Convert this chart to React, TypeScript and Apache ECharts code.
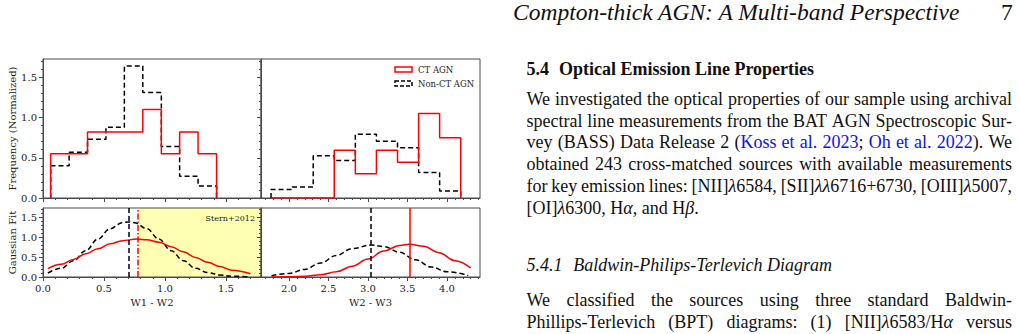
import React, { useEffect, useRef } from "react";
import * as echarts from "echarts";

// ---------------- data ----------------
// top-left: W1 - W2 histograms
const leftEdges = [0.063, 0.214, 0.365, 0.516, 0.667, 0.818, 0.97, 1.12, 1.271, 1.423];
const leftCT = [0.55, 0.55, 0.82, 0.82, 0.82, 1.1, 0.55, 0.82, 0.55];
const leftNonCT = [0.4, 0.57, 0.73, 0.88, 1.64, 1.31, 0.64, 0.27, 0.15];
// top-right: W2 - W3 histograms
const rightEdges = [1.773, 2.04, 2.307, 2.573, 2.84, 3.107, 3.374, 3.641, 3.907, 4.174];
const rightCT = [0, 0, 0, 0.595, 0.3, 0.595, 0.445, 1.05, 0.75];
const rightNonCT = [0.105, 0.137, 0.524, 0.466, 0.794, 0.707, 0.624, 0.317, 0.087];

// bottom-left: Gaussian fits (W1 - W2)
const leftGaussNonCTX = [0.04, 0.15, 0.25, 0.35, 0.45, 0.55, 0.65, 0.7, 0.75, 0.85, 0.95, 1.05, 1.15, 1.25, 1.35, 1.45, 1.55, 1.7];
const leftGaussNonCTY = [0.1, 0.22, 0.41, 0.66, 0.95, 1.21, 1.36, 1.38, 1.36, 1.21, 0.95, 0.66, 0.41, 0.22, 0.11, 0.05, 0.02, 0.003];
const leftGaussCTX = [0.04, 0.15, 0.25, 0.35, 0.45, 0.55, 0.65, 0.77, 0.85, 0.95, 1.05, 1.15, 1.25, 1.35, 1.45, 1.55, 1.7];
const leftGaussCTY = [0.21, 0.32, 0.44, 0.58, 0.71, 0.83, 0.91, 0.95, 0.93, 0.87, 0.76, 0.63, 0.49, 0.37, 0.26, 0.17, 0.08];
// bottom-right: Gaussian fits (W2 - W3)
const rightGaussNonCTX = [1.78, 2.0, 2.2, 2.4, 2.6, 2.8, 3.04, 3.2, 3.4, 3.6, 3.8, 4.0, 4.27];
const rightGaussNonCTY = [0.03, 0.09, 0.19, 0.35, 0.54, 0.71, 0.8, 0.76, 0.62, 0.43, 0.25, 0.13, 0.04];
const rightGaussCTX = [1.78, 2.0, 2.2, 2.4, 2.6, 2.8, 3.0, 3.2, 3.4, 3.53, 3.7, 3.9, 4.1, 4.3];
const rightGaussCTY = [0.001, 0.006, 0.02, 0.055, 0.13, 0.27, 0.45, 0.65, 0.79, 0.82, 0.77, 0.61, 0.41, 0.23];

// means (vertical lines) and the Stern+2012 cut
const leftMeanCT = 0.775;
const leftMeanNonCT = 0.7;
const rightMeanCT = 3.53;
const rightMeanNonCT = 3.04;
const sternCut = 0.78;
const sternLabel = "Stern+2012";

// axis ranges and ticks
const leftRange = [0, 1.787];
const rightRange = [1.646, 4.418];
const yRange = [0, 1.728];
const leftMajor = [0, 0.5, 1.0, 1.5];
const leftMinor = [0.1, 0.2, 0.3, 0.4, 0.6, 0.7, 0.8, 0.9, 1.1, 1.2, 1.3, 1.4, 1.6, 1.7];
const rightMajor = [2.0, 2.5, 3.0, 3.5, 4.0];
const rightMinor = [1.7, 1.8, 1.9, 2.1, 2.2, 2.3, 2.4, 2.6, 2.7, 2.8, 2.9, 3.1, 3.2, 3.3, 3.4, 3.6, 3.7, 3.8, 3.9, 4.1, 4.2, 4.3, 4.4];
const yMajor = [0, 0.5, 1.0, 1.5];
const yMinor = [0.1, 0.2, 0.3, 0.4, 0.6, 0.7, 0.8, 0.9, 1.1, 1.2, 1.3, 1.4, 1.6, 1.7];

const seriesNames = ["CT AGN", "Non-CT AGN"];
const axisNames = { freq: "Frequency (Normalized)", gauss: "Gaussian Fit", w12: "W1 - W2", w23: "W2 - W3" };

// page text
const headerTitle = "Compton-thick AGN: A Multi-band Perspective";
const pageNumber = "7";
const sectionNum = "5.4";
const sectionTitle = "Optical Emission Line Properties";
const paraLines = [
  "We investigated the optical properties of our sample using archival",
  "spectral line measurements from the BAT AGN Spectroscopic Sur-",
  "vey (BASS) Data Release 2 ({Koss} {et} {al.} {2023}; {Oh} {et} {al.} {2022}). We",
  "obtained 243 cross-matched sources with available measurements",
  "for key emission lines: [NII]λ6584, [SII]λλ6716+6730, [OIII]λ5007,",
];
const paraLast = "[OI]λ6300, Hα, and Hβ.";
const subNum = "5.4.1";
const subTitle = "Baldwin-Philips-Terlevich Diagram";
const para2Lines = [
  "We classified the sources using three standard Baldwin-",
  "Phillips-Terlevich (BPT) diagrams: (1) [NII]λ6583/Hα versus",
];

// ---------------- styling ----------------
const FONT = '"DejaVu Serif", serif';
const PAGE_FONT = '"Liberation Serif", "Times New Roman", Times, serif';
const AXIS_COLOR = "#4a4a4a";
const TEXT_COLOR = "#222";
const RED = "#ff0000";
const BLACK = "#000000";
const DASH = [5, 3];
const LINK_COLOR = "#1010f0";

function stepData(edges: number[], vals: number[]) {
  const d: number[][] = [[edges[0], 0]];
  vals.forEach((v, i) => d.push([edges[i], v]));
  d.push([edges[edges.length - 1], 0]);
  return d;
}
function zip(xs: number[], ys: number[]) {
  return xs.map((x, i) => [x, ys[i]]);
}

function xAxes(gridIndex: number, range: number[], major: number[], minor: number[], labels: boolean, name?: string) {
  return [
    {
      type: "value", gridIndex, min: range[0], max: range[1], position: "bottom", z: 2,
      axisLine: { show: true, lineStyle: { color: AXIS_COLOR, width: 1 } },
      axisTick: { show: true, customValues: major, length: 4, lineStyle: { color: AXIS_COLOR, width: 1 } },
      axisLabel: {
        show: labels, customValues: major, formatter: (v: number) => v.toFixed(1),
        fontFamily: FONT, fontSize: 10, color: TEXT_COLOR, margin: 6,
      },
      splitLine: { show: false },
      name: name || "", nameLocation: "middle", nameGap: 20,
      nameTextStyle: { fontFamily: FONT, fontSize: 10, color: TEXT_COLOR },
    },
    {
      type: "value", gridIndex, min: range[0], max: range[1], position: "bottom", z: 2,
      axisLine: { show: false },
      axisTick: { show: true, customValues: minor, length: 2, lineStyle: { color: AXIS_COLOR, width: 1 } },
      axisLabel: { show: false },
      splitLine: { show: false },
    },
  ];
}
function yAxes(gridIndex: number, labels: boolean, name?: string) {
  return [
    {
      type: "value", gridIndex, min: yRange[0], max: yRange[1], position: "left", z: 2,
      axisLine: { show: true, lineStyle: { color: AXIS_COLOR, width: 1 } },
      axisTick: { show: true, customValues: yMajor, length: 4, lineStyle: { color: AXIS_COLOR, width: 1 } },
      axisLabel: {
        show: labels, customValues: yMajor, formatter: (v: number) => v.toFixed(1),
        fontFamily: FONT, fontSize: 10, color: TEXT_COLOR, margin: 6,
      },
      splitLine: { show: false },
      name: name || "", nameLocation: "middle", nameRotate: 90, nameGap: 26,
      nameTextStyle: { fontFamily: FONT, fontSize: 10, color: TEXT_COLOR },
    },
    {
      type: "value", gridIndex, min: yRange[0], max: yRange[1], position: "left", z: 2,
      axisLine: { show: false },
      axisTick: { show: true, customValues: yMinor, length: 2, lineStyle: { color: AXIS_COLOR, width: 1 } },
      axisLabel: { show: false },
      splitLine: { show: false },
    },
  ];
}

function histSeries(name: string, axis: number, edges: number[], vals: number[], color: string, dashed: boolean) {
  return {
    type: "line", name, xAxisIndex: axis, yAxisIndex: axis, step: "end",
    data: stepData(edges, vals), symbol: "none", showSymbol: false, silent: true, z: 3,
    lineStyle: { color, width: 1.5, type: dashed ? DASH : "solid" },
  };
}
function gaussSeries(name: string, axis: number, xs: number[], ys: number[], color: string, dashed: boolean, mean: number, meanType: any) {
  return {
    type: "line", name, xAxisIndex: axis, yAxisIndex: axis, smooth: 0.4, smoothMonotone: "x",
    data: zip(xs, ys), symbol: "none", showSymbol: false, silent: true, z: 3,
    lineStyle: { color, width: 1.5, type: dashed ? DASH : "solid" },
    markLine: {
      silent: true, symbol: ["none", "none"], label: { show: false },
      lineStyle: { color, width: 1.5, type: meanType },
      data: [{ xAxis: mean }],
    },
  };
}

function buildOption() {
  const gridBase = { show: true, borderColor: AXIS_COLOR, borderWidth: 1, backgroundColor: "transparent", containLabel: false, z: 2 };
  return {
    animation: false,
    grid: [
      { ...gridBase, left: 43, top: 59, width: 218, height: 139 },
      { ...gridBase, left: 261, top: 59, width: 219, height: 139 },
      { ...gridBase, left: 43, top: 208, width: 218, height: 69 },
      { ...gridBase, left: 261, top: 208, width: 219, height: 69 },
    ],
    xAxis: [
      ...xAxes(0, leftRange, leftMajor, leftMinor, false),
      ...xAxes(1, rightRange, rightMajor, rightMinor, false),
      ...xAxes(2, leftRange, leftMajor, leftMinor, true, axisNames.w12),
      ...xAxes(3, rightRange, rightMajor, rightMinor, true, axisNames.w23),
    ],
    yAxis: [
      ...yAxes(0, true, axisNames.freq),
      ...yAxes(1, false),
      ...yAxes(2, true, axisNames.gauss),
      ...yAxes(3, false),
    ],
    series: [
      {
        type: "line", name: "stern", xAxisIndex: 4, yAxisIndex: 4, data: [[sternCut, 0]],
        symbol: "none", lineStyle: { opacity: 0 }, silent: true, z: 1,
        markArea: {
          silent: true,
          itemStyle: { color: "#ffffb3" },
          label: {
            show: true, position: "insideTopRight", distance: 6,
            fontFamily: FONT, fontSize: 8, color: TEXT_COLOR,
          },
          data: [[{ xAxis: sternCut, name: sternLabel }, { xAxis: leftRange[1] }]],
        },
      },
      histSeries(seriesNames[1], 0, leftEdges, leftNonCT, BLACK, true),
      histSeries(seriesNames[0], 0, leftEdges, leftCT, RED, false),
      histSeries(seriesNames[1], 2, rightEdges, rightNonCT, BLACK, true),
      histSeries(seriesNames[0], 2, rightEdges, rightCT, RED, false),
      gaussSeries(seriesNames[1], 4, leftGaussNonCTX, leftGaussNonCTY, BLACK, true, leftMeanNonCT, DASH),
      gaussSeries(seriesNames[0], 4, leftGaussCTX, leftGaussCTY, RED, false, leftMeanCT, [6, 2, 1.5, 2]),
      gaussSeries(seriesNames[1], 6, rightGaussNonCTX, rightGaussNonCTY, BLACK, true, rightMeanNonCT, DASH),
      gaussSeries(seriesNames[0], 6, rightGaussCTX, rightGaussCTY, RED, false, rightMeanCT, "solid"),
    ],
    graphic: [
      { type: "rect", silent: true, z: 10, shape: { x: 395, y: 67, width: 17, height: 5 }, style: { fill: "none", stroke: RED, lineWidth: 1.5 } },
      { type: "rect", silent: true, z: 10, shape: { x: 395, y: 81, width: 17, height: 5 }, style: { fill: "none", stroke: BLACK, lineWidth: 1.5, lineDash: [4, 2] } },
      { type: "text", silent: true, z: 10, x: 418, y: 69.5, style: { text: seriesNames[0], fontFamily: FONT, fontSize: 8.5, fill: TEXT_COLOR, verticalAlign: "middle" } },
      { type: "text", silent: true, z: 10, x: 418, y: 83.5, style: { text: seriesNames[1], fontFamily: FONT, fontSize: 8.5, fill: TEXT_COLOR, verticalAlign: "middle" } },
    ],
  };
}

// ---------------- page text helpers ----------------
const TEXT_LEFT = 526.5;
const TEXT_W = 485.5;
const PARA_SIZE = 18;
const LH = 0.8; // line-height in em
const ASC = (LH - 1.107) / 2 + 0.891; // baseline offset from box top, in em

function rich(s: string, kb: string) {
  return s.split(/(\{[^}]*\}|[λαβ])/).filter((p) => p !== "").map((p, i) => {
    if (p.startsWith("{")) return <span key={kb + i} style={{ color: LINK_COLOR }}>{p.slice(1, -1)}</span>;
    if (/^[λαβ]$/.test(p)) return <i key={kb + i}>{p}</i>;
    return <React.Fragment key={kb + i}>{p}</React.Fragment>;
  });
}

function JustLine({ text, baseline }: { text: string; baseline: number }) {
  const words = text.split(" ");
  return (
    <div
      style={{
        position: "absolute", left: TEXT_LEFT, width: TEXT_W, top: baseline - ASC * PARA_SIZE,
        display: "flex", justifyContent: "space-between", columnGap: 2,
        fontFamily: PAGE_FONT, fontSize: PARA_SIZE, lineHeight: LH, whiteSpace: "nowrap", color: "#111",
      }}
    >
      {words.map((w, i) => <span key={i}>{rich(w, "w" + i)}</span>)}
    </div>
  );
}

function PlainLine({ baseline, size, left, style, children }: any) {
  return (
    <div
      style={{
        position: "absolute", left, top: baseline - ASC * size, fontFamily: PAGE_FONT, fontSize: size,
        lineHeight: LH, whiteSpace: "nowrap", color: "#111", ...style,
      }}
    >
      {children}
    </div>
  );
}

export default function App() {
  const ref = useRef<HTMLDivElement>(null);
  useEffect(() => {
    if (!ref.current) return;
    const chart = echarts.init(ref.current, undefined, { renderer: "svg" });
    chart.setOption(buildOption() as any);
    return () => chart.dispose();
  }, []);

  const paraBaselines = [105, 126.8, 148.6, 170.4, 192.2];
  return (
    <div style={{ position: "absolute", left: 0, top: 0, width: 1019, height: 334, background: "#fff", overflow: "hidden" }}>
      <div ref={ref} style={{ position: "absolute", left: 0, top: 0, width: 500, height: 334 }} />
      <PlainLine baseline={20.5} size={23.5} left={513} style={{ fontStyle: "italic" }}>{headerTitle}</PlainLine>
      <PlainLine baseline={20.5} size={23.5} left={1001}>{pageNumber}</PlainLine>
      <PlainLine baseline={75.5} size={PARA_SIZE} left={TEXT_LEFT} style={{ fontWeight: "bold" }}>
        <span style={{ marginRight: "0.55em" }}>{sectionNum}</span>{sectionTitle}
      </PlainLine>
      {paraLines.map((l, i) => <JustLine key={i} text={l} baseline={paraBaselines[i]} />)}
      <PlainLine baseline={214} size={PARA_SIZE} left={TEXT_LEFT}>{rich(paraLast, "pl")}</PlainLine>
      <PlainLine baseline={271} size={PARA_SIZE} left={TEXT_LEFT} style={{ fontStyle: "italic" }}>
        <span style={{ marginRight: "0.6em" }}>{subNum}</span>{subTitle}
      </PlainLine>
      {para2Lines.map((l, i) => <JustLine key={"b" + i} text={l} baseline={[306.7, 328.3][i]} />)}
    </div>
  );
}
